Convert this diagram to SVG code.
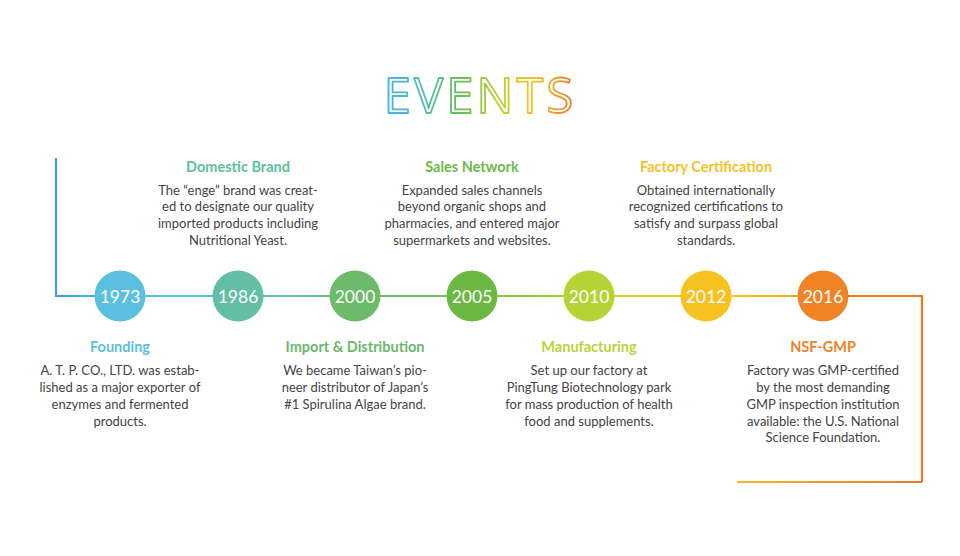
<svg xmlns="http://www.w3.org/2000/svg" width="960" height="556" viewBox="0 0 960 556">
<defs>
<linearGradient id="tg" gradientUnits="userSpaceOnUse" x1="388" y1="0" x2="572" y2="0">
<stop offset="0" stop-color="#46b4e2"/>
<stop offset="0.2" stop-color="#55bdb0"/>
<stop offset="0.4" stop-color="#6cbd55"/>
<stop offset="0.6" stop-color="#b9d22c"/>
<stop offset="0.8" stop-color="#f4c22a"/>
<stop offset="1" stop-color="#ea7f2a"/>
</linearGradient>
<linearGradient id="lg" gradientUnits="userSpaceOnUse" x1="56" y1="0" x2="922" y2="0">
<stop offset="0" stop-color="#3d9edb"/>
<stop offset="0.1" stop-color="#5bbfe0"/>
<stop offset="0.25" stop-color="#62bfa5"/>
<stop offset="0.4" stop-color="#6dbb6a"/>
<stop offset="0.55" stop-color="#8dc63f"/>
<stop offset="0.65" stop-color="#c9d835"/>
<stop offset="0.78" stop-color="#f7c11f"/>
<stop offset="1" stop-color="#e87a24"/>
</linearGradient>
<linearGradient id="bg" gradientUnits="userSpaceOnUse" x1="737" y1="0" x2="922" y2="0">
<stop offset="0" stop-color="#f2b630"/>
<stop offset="1" stop-color="#e67a26"/>
</linearGradient>
<style>
.yr{font-family:Lato,"Open Sans",sans-serif;font-size:17.5px;fill:#fff;text-anchor:middle}
.ttl{font-family:Lato,"Open Sans",sans-serif;font-size:14.5px;font-weight:bold;text-anchor:middle}
.bd{font-family:Lato,"Open Sans",sans-serif;font-size:13px;fill:#444;text-anchor:middle}
</style>
</defs>
<rect width="960" height="556" fill="#fff"/>
<g id="title">
<text x="480" y="113" font-family="'Open Sans',Lato,sans-serif" font-weight="400" font-size="49" letter-spacing="3" text-anchor="middle" fill="#fff" stroke="url(#tg)" stroke-width="1.8" stroke-linejoin="round">EVENTS</text>
</g>
<g id="connectors" fill="none" stroke-width="2.2">
<path d="M56 158 V296 H823" stroke="url(#lg)"/>
<path d="M823 296 H922 V482" stroke="#e67a26"/>
<path d="M922 482 H737" stroke="url(#bg)"/>
</g>
<g id="n1973">
<circle cx="120" cy="296" r="25.5" fill="#5bbfe0"/>
<text class="yr" x="120" y="302.5">1973</text>
<text class="ttl" x="120" y="352" fill="#5bbfe0">Founding</text>
<text class="bd" x="120" y="374.5">A. T. P. CO., LTD. was estab-</text>
<text class="bd" x="120" y="391.5">lished as a major exporter of</text>
<text class="bd" x="120" y="408.5">enzymes and fermented</text>
<text class="bd" x="120" y="425.5">products.</text>
</g>
<g id="n1986">
<circle cx="238" cy="296" r="25.5" fill="#62bfa5"/>
<text class="yr" x="238" y="302.5">1986</text>
<text class="ttl" x="238" y="171.5" fill="#5cbf9f">Domestic Brand</text>
<text class="bd" x="238" y="194.5">The “enge” brand was creat-</text>
<text class="bd" x="238" y="211">ed to designate our quality</text>
<text class="bd" x="238" y="227.5">imported products including</text>
<text class="bd" x="238" y="244.5">Nutritional Yeast.</text>
</g>
<g id="n2000">
<circle cx="355" cy="296" r="25.5" fill="#6dbb6a"/>
<text class="yr" x="355" y="302.5">2000</text>
<text class="ttl" x="355" y="352" fill="#6bb86a">Import &amp; Distribution</text>
<text class="bd" x="355" y="374.5">We became Taiwan’s pio-</text>
<text class="bd" x="355" y="391.5">neer distributor of Japan’s</text>
<text class="bd" x="355" y="408.5">#1 Spirulina Algae brand.</text>
</g>
<g id="n2005">
<circle cx="472" cy="296" r="25.5" fill="#6bb843"/>
<text class="yr" x="472" y="302.5">2005</text>
<text class="ttl" x="472" y="171.5" fill="#6db84b">Sales Network</text>
<text class="bd" x="472" y="194.5">Expanded sales channels</text>
<text class="bd" x="472" y="211">beyond organic shops and</text>
<text class="bd" x="472" y="227.5">pharmacies, and entered major</text>
<text class="bd" x="472" y="244.5">supermarkets and websites.</text>
</g>
<g id="n2010">
<circle cx="589" cy="296" r="25.5" fill="#b6d335"/>
<text class="yr" x="589" y="302.5">2010</text>
<text class="ttl" x="589" y="352" fill="#b9d43a">Manufacturing</text>
<text class="bd" x="589" y="374.5">Set up our factory at</text>
<text class="bd" x="589" y="391.5">PingTung Biotechnology park</text>
<text class="bd" x="589" y="408.5">for mass production of health</text>
<text class="bd" x="589" y="425.5">food and supplements.</text>
</g>
<g id="n2012">
<circle cx="706" cy="296" r="25.5" fill="#f7c11f"/>
<text class="yr" x="706" y="302.5">2012</text>
<text class="ttl" x="706" y="171.5" fill="#f6c127">Factory Certification</text>
<text class="bd" x="706" y="194.5">Obtained internationally</text>
<text class="bd" x="706" y="211">recognized certifications to</text>
<text class="bd" x="706" y="227.5">satisfy and surpass global</text>
<text class="bd" x="706" y="244.5">standards.</text>
</g>
<g id="n2016">
<circle cx="823" cy="296" r="25.5" fill="#ef8325"/>
<text class="yr" x="823" y="302.5">2016</text>
<text class="ttl" x="823" y="352" fill="#ee8229">NSF-GMP</text>
<text class="bd" x="823" y="374.5">Factory was GMP-certified</text>
<text class="bd" x="823" y="391.5">by the most demanding</text>
<text class="bd" x="823" y="408.5">GMP inspection institution</text>
<text class="bd" x="823" y="425.5">available: the U.S. National</text>
<text class="bd" x="823" y="442">Science Foundation.</text>
</g>
</svg>
